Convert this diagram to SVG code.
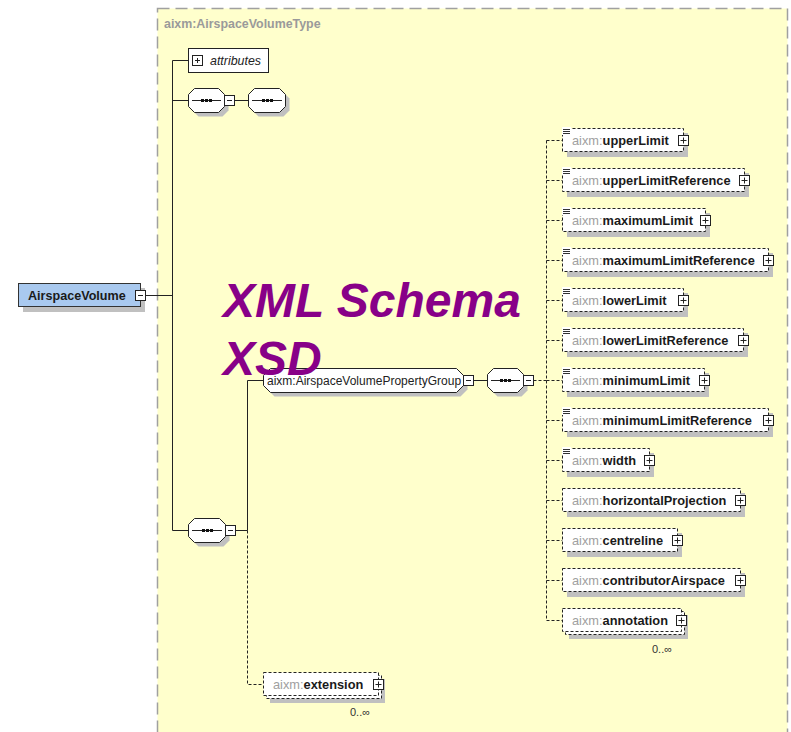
<svg xmlns="http://www.w3.org/2000/svg" width="791" height="732" viewBox="0 0 791 732">
<style>
text{font-family:"Liberation Sans",Arial,sans-serif}
.sh{fill:#c0c0c0;stroke:none}
.el{fill:#fff;stroke:#222;stroke-dasharray:3 2}
.bx{fill:#fff;stroke:#222}
.ln{stroke:#222;fill:none}
.dl{stroke:#222;fill:none;stroke-dasharray:3 2}
.pm{fill:#fff;stroke:#222}
.ic{stroke:#333;fill:none}
.dot{fill:#111}
.t{font-size:12.8px}
.ns{fill:#a0a0a0}
.nm{font-weight:bold;fill:#1a1a1a}
.oc{font-size:11px;fill:#333}
</style>
<rect width="791" height="732" fill="#fff"/>
<g id="container">
<rect x="157.5" y="8.5" width="630" height="740" fill="#ffffcc" stroke="#a0a0a0" stroke-width="1.5" stroke-dasharray="12 6"/>
<text x="164" y="28" font-size="12.4" font-weight="bold" fill="#9a9a9a">aixm:AirspaceVolumeType</text>
</g>
<g id="connectors">
<path class="ln" d="M146 295.5H172.5M172.5 60.5V530.5M172.5 60.5H188.5M172.5 100.5H188.5M234.5 100.5H248.5M172.5 530.5H188.5M235.5 530.5H247.5V380.5H263.5M473.5 380.5H487.5"/>
<path class="dl" d="M247.5 530.5V684.5H263.5M533.5 380.5H546.5M546.5 140.5V620.5M546.5 140.5H562.5M546.5 180.5H562.5M546.5 220.5H562.5M546.5 260.5H562.5M546.5 300.5H562.5M546.5 340.5H562.5M546.5 380.5H562.5M546.5 420.5H562.5M546.5 460.5H562.5M546.5 500.5H562.5M546.5 540.5H562.5M546.5 580.5H562.5M546.5 620.5H562.5"/>
</g>
<g id="AirspaceVolume">
<rect class="sh" x="23" y="288" width="122" height="24"/>
<rect x="18.5" y="283.5" width="122" height="23" fill="#a9c9ef" stroke="#333"/>
<text x="28" y="299.5" font-size="12.6" font-weight="bold" fill="#1a1a1a">AirspaceVolume</text>
<rect class="pm" x="135.5" y="290.5" width="10" height="10"/>
<path class="ln" d="M138 295.5h5"/>
</g>
<g id="attributes">
<rect class="bx" x="188.5" y="48.5" width="80" height="24"/>
<rect class="pm" x="192.5" y="55.5" width="10" height="10"/>
<path class="ln" d="M195 60.5h5M197.5 58v5"/>
<text x="210" y="64.5" font-size="12.4" font-style="italic" fill="#222">attributes</text>
</g>
<g id="seq-top1">
<path class="sh" transform="translate(4,4)" d="M194.5 88.5H218.5L224.5 94.5V106.5L218.5 112.5H194.5L188.5 106.5V94.5Z"/>
<path class="bx" d="M194.5 88.5H218.5L224.5 94.5V106.5L218.5 112.5H194.5L188.5 106.5V94.5Z"/>
<path class="ln" d="M192 100.5H221"/>
<rect class="dot" x="201" y="99" width="3" height="3"/><rect class="dot" x="205" y="99" width="3" height="3"/><rect class="dot" x="209" y="99" width="3" height="3"/>
<rect class="pm" x="224.5" y="95.5" width="10" height="10"/>
<path class="ln" d="M227 100.5h5"/>
</g>
<g id="seq-top2">
<path class="sh" transform="translate(4,4)" d="M254.5 88.5H279.5L285.5 94.5V106.5L279.5 112.5H254.5L248.5 106.5V94.5Z"/>
<path class="bx" d="M254.5 88.5H279.5L285.5 94.5V106.5L279.5 112.5H254.5L248.5 106.5V94.5Z"/>
<path class="ln" d="M252 100.5H282"/>
<rect class="dot" x="262" y="99" width="3" height="3"/><rect class="dot" x="266" y="99" width="3" height="3"/><rect class="dot" x="270" y="99" width="3" height="3"/>
</g>
<g id="seq-bottom">
<path class="sh" transform="translate(4,4)" d="M194.5 518.5H219.5L225.5 524.5V536.5L219.5 542.5H194.5L188.5 536.5V524.5Z"/>
<path class="bx" d="M194.5 518.5H219.5L225.5 524.5V536.5L219.5 542.5H194.5L188.5 536.5V524.5Z"/>
<path class="ln" d="M192 530.5H222"/>
<rect class="dot" x="202" y="529" width="3" height="3"/><rect class="dot" x="206" y="529" width="3" height="3"/><rect class="dot" x="210" y="529" width="3" height="3"/>
<rect class="pm" x="225.5" y="525.5" width="10" height="10"/>
<path class="ln" d="M228 530.5h5"/>
</g>
<g id="group-AirspaceVolumePropertyGroup">
<path class="sh" transform="translate(4,4)" d="M270.5 368.5H456.5L463.5 375.5V385.5L456.5 392.5H270.5L263.5 385.5V375.5Z"/>
<path class="bx" stroke-linejoin="round" d="M270.5 368.5H456.5L463.5 375.5V385.5L456.5 392.5H270.5L263.5 385.5V375.5Z"/>
<text x="267" y="384.5" font-size="12" fill="#222">aixm:AirspaceVolumePropertyGroup</text>
<rect class="pm" x="463.5" y="375.5" width="10" height="10"/>
<path class="ln" d="M466 380.5h5"/>
</g>
<g id="seq-right">
<path class="sh" transform="translate(4,4)" d="M493.5 368.5H517.5L523.5 374.5V386.5L517.5 392.5H493.5L487.5 386.5V374.5Z"/>
<path class="bx" d="M493.5 368.5H517.5L523.5 374.5V386.5L517.5 392.5H493.5L487.5 386.5V374.5Z"/>
<path class="ln" d="M491 380.5H520"/>
<rect class="dot" x="500" y="379" width="3" height="3"/><rect class="dot" x="504" y="379" width="3" height="3"/><rect class="dot" x="508" y="379" width="3" height="3"/>
<rect class="pm" x="523.5" y="375.5" width="10" height="10"/>
<path class="ln" d="M526 380.5h5"/>
</g>
<g id="el-upperLimit">
<rect class="sh" x="567" y="133" width="121" height="24"/>
<rect class="el" x="562.5" y="128.5" width="121" height="23"/>
<rect x="562" y="127" width="9" height="8" fill="#fff"/><path class="ic" d="M563 129.5h7M563 131.5h7M563 133.5h7"/>
<text class="t" x="572" y="144.5"><tspan class="ns">aixm:</tspan><tspan class="nm">upperLimit</tspan></text>
<rect class="pm" x="678.5" y="135.5" width="10" height="10"/><path class="ln" d="M680.5 140.5h6M683.5 137.5v6"/>
</g>
<g id="el-upperLimitReference">
<rect class="sh" x="567" y="173" width="182" height="24"/>
<rect class="el" x="562.5" y="168.5" width="182" height="23"/>
<rect x="562" y="167" width="9" height="8" fill="#fff"/><path class="ic" d="M563 169.5h7M563 171.5h7M563 173.5h7"/>
<text class="t" x="572" y="184.5"><tspan class="ns">aixm:</tspan><tspan class="nm">upperLimitReference</tspan></text>
<rect class="pm" x="739.5" y="175.5" width="10" height="10"/><path class="ln" d="M741.5 180.5h6M744.5 177.5v6"/>
</g>
<g id="el-maximumLimit">
<rect class="sh" x="567" y="213" width="143" height="24"/>
<rect class="el" x="562.5" y="208.5" width="143" height="23"/>
<rect x="562" y="207" width="9" height="8" fill="#fff"/><path class="ic" d="M563 209.5h7M563 211.5h7M563 213.5h7"/>
<text class="t" x="572" y="224.5"><tspan class="ns">aixm:</tspan><tspan class="nm">maximumLimit</tspan></text>
<rect class="pm" x="700.5" y="215.5" width="10" height="10"/><path class="ln" d="M702.5 220.5h6M705.5 217.5v6"/>
</g>
<g id="el-maximumLimitReference">
<rect class="sh" x="567" y="253" width="206" height="24"/>
<rect class="el" x="562.5" y="248.5" width="206" height="23"/>
<rect x="562" y="247" width="9" height="8" fill="#fff"/><path class="ic" d="M563 249.5h7M563 251.5h7M563 253.5h7"/>
<text class="t" x="572" y="264.5"><tspan class="ns">aixm:</tspan><tspan class="nm">maximumLimitReference</tspan></text>
<rect class="pm" x="763.5" y="255.5" width="10" height="10"/><path class="ln" d="M765.5 260.5h6M768.5 257.5v6"/>
</g>
<g id="el-lowerLimit">
<rect class="sh" x="567" y="293" width="121" height="24"/>
<rect class="el" x="562.5" y="288.5" width="121" height="23"/>
<rect x="562" y="287" width="9" height="8" fill="#fff"/><path class="ic" d="M563 289.5h7M563 291.5h7M563 293.5h7"/>
<text class="t" x="572" y="304.5"><tspan class="ns">aixm:</tspan><tspan class="nm">lowerLimit</tspan></text>
<rect class="pm" x="678.5" y="295.5" width="10" height="10"/><path class="ln" d="M680.5 300.5h6M683.5 297.5v6"/>
</g>
<g id="el-lowerLimitReference">
<rect class="sh" x="567" y="333" width="181" height="24"/>
<rect class="el" x="562.5" y="328.5" width="181" height="23"/>
<rect x="562" y="327" width="9" height="8" fill="#fff"/><path class="ic" d="M563 329.5h7M563 331.5h7M563 333.5h7"/>
<text class="t" x="572" y="344.5"><tspan class="ns">aixm:</tspan><tspan class="nm">lowerLimitReference</tspan></text>
<rect class="pm" x="738.5" y="335.5" width="10" height="10"/><path class="ln" d="M740.5 340.5h6M743.5 337.5v6"/>
</g>
<g id="el-minimumLimit">
<rect class="sh" x="567" y="373" width="142" height="24"/>
<rect class="el" x="562.5" y="368.5" width="142" height="23"/>
<rect x="562" y="367" width="9" height="8" fill="#fff"/><path class="ic" d="M563 369.5h7M563 371.5h7M563 373.5h7"/>
<text class="t" x="572" y="384.5"><tspan class="ns">aixm:</tspan><tspan class="nm">minimumLimit</tspan></text>
<rect class="pm" x="699.5" y="375.5" width="10" height="10"/><path class="ln" d="M701.5 380.5h6M704.5 377.5v6"/>
</g>
<g id="el-minimumLimitReference">
<rect class="sh" x="567" y="413" width="206" height="24"/>
<rect class="el" x="562.5" y="408.5" width="206" height="23"/>
<rect x="562" y="407" width="9" height="8" fill="#fff"/><path class="ic" d="M563 409.5h7M563 411.5h7M563 413.5h7"/>
<text class="t" x="572" y="424.5"><tspan class="ns">aixm:</tspan><tspan class="nm">minimumLimitReference</tspan></text>
<rect class="pm" x="763.5" y="415.5" width="10" height="10"/><path class="ln" d="M765.5 420.5h6M768.5 417.5v6"/>
</g>
<g id="el-width">
<rect class="sh" x="567" y="453" width="87" height="24"/>
<rect class="el" x="562.5" y="448.5" width="87" height="23"/>
<rect x="562" y="447" width="9" height="8" fill="#fff"/><path class="ic" d="M563 449.5h7M563 451.5h7M563 453.5h7"/>
<text class="t" x="572" y="464.5"><tspan class="ns">aixm:</tspan><tspan class="nm">width</tspan></text>
<rect class="pm" x="644.5" y="455.5" width="10" height="10"/><path class="ln" d="M646.5 460.5h6M649.5 457.5v6"/>
</g>
<g id="el-horizontalProjection">
<rect class="sh" x="567" y="493" width="178" height="24"/>
<rect class="el" x="562.5" y="488.5" width="178" height="23"/>
<text class="t" x="572" y="504.5"><tspan class="ns">aixm:</tspan><tspan class="nm">horizontalProjection</tspan></text>
<rect class="pm" x="735.5" y="495.5" width="10" height="10"/><path class="ln" d="M737.5 500.5h6M740.5 497.5v6"/>
</g>
<g id="el-centreline">
<rect class="sh" x="567" y="533" width="115" height="24"/>
<rect class="el" x="562.5" y="528.5" width="115" height="23"/>
<text class="t" x="572" y="544.5"><tspan class="ns">aixm:</tspan><tspan class="nm">centreline</tspan></text>
<rect class="pm" x="672.5" y="535.5" width="10" height="10"/><path class="ln" d="M674.5 540.5h6M677.5 537.5v6"/>
</g>
<g id="el-contributorAirspace">
<rect class="sh" x="567" y="573" width="178" height="24"/>
<rect class="el" x="562.5" y="568.5" width="178" height="23"/>
<text class="t" x="572" y="584.5"><tspan class="ns">aixm:</tspan><tspan class="nm">contributorAirspace</tspan></text>
<rect class="pm" x="735.5" y="575.5" width="10" height="10"/><path class="ln" d="M737.5 580.5h6M740.5 577.5v6"/>
</g>
<g id="el-annotation">
<rect class="sh" x="569" y="615" width="119" height="24"/>
<rect class="el" x="565.5" y="611.5" width="119" height="23"/>
<rect class="el" x="562.5" y="608.5" width="119" height="23"/>
<text class="t" x="572" y="624.5"><tspan class="ns">aixm:</tspan><tspan class="nm">annotation</tspan></text>
<rect class="pm" x="676.5" y="615.5" width="10" height="10"/><path class="ln" d="M678.5 620.5h6M681.5 617.5v6"/>
<text class="oc" x="652" y="653">0..∞</text>
</g>
<g id="el-extension">
<rect class="sh" x="270" y="679" width="115" height="24"/>
<rect class="el" x="266.5" y="675.5" width="115" height="23"/>
<rect class="el" x="263.5" y="672.5" width="115" height="23"/>
<text class="t" x="273" y="688.5"><tspan class="ns">aixm:</tspan><tspan class="nm">extension</tspan></text>
<rect class="pm" x="373.5" y="679.5" width="10" height="10"/><path class="ln" d="M375.5 684.5h6M378.5 681.5v6"/>
<text class="oc" x="350" y="716">0..∞</text>
</g>
<g id="watermark" font-size="48" font-weight="bold" font-style="italic" fill="#880088">
<text x="223" y="317">XML Schema</text>
<text x="223" y="375">XSD</text>
</g>
</svg>
